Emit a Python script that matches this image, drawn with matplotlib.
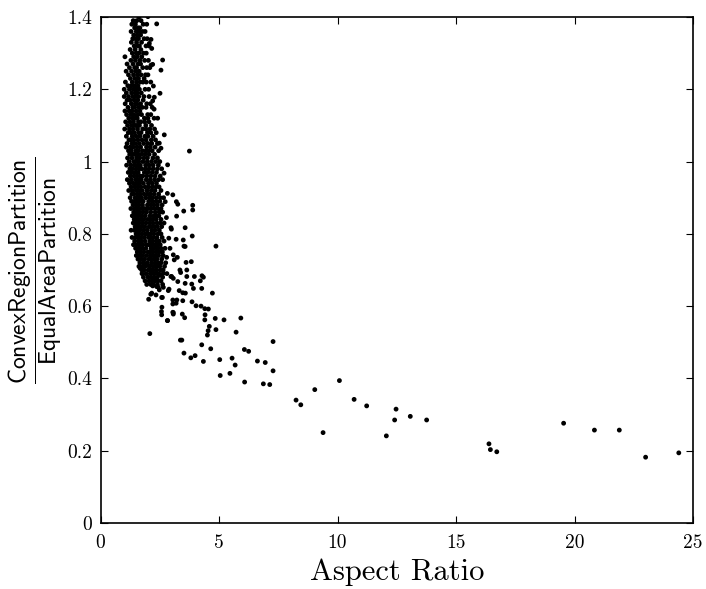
import matplotlib
matplotlib.use("Agg")
import matplotlib.pyplot as plt

plt.rcParams['mathtext.fontset'] = 'cm'

# dense core of the cloud: (y, [x values])
core_rows = [
    (1.40, [1.62]),
    (1.39, [1.38, 1.53, 1.71]),
    (1.38, [1.32, 1.47, 1.80]),
    (1.37, [1.44, 1.58, 1.66]),
    (1.36, [1.29, 1.51, 1.62, 1.77]),
    (1.35, [1.40, 1.55, 1.69]),
    (1.34, [1.36, 1.48, 1.60, 1.84]),
    (1.33, [1.30, 1.52, 1.73]),
    (1.32, [1.42, 1.57, 1.64, 1.92]),
    (1.31, [1.25, 1.46, 1.70]),
    (1.30, [1.34, 1.51, 1.62, 1.81]),
    (1.29, [1.03, 1.40, 1.55, 1.74]),
    (1.28, [1.28, 1.47, 1.66]),
    (1.27, [1.12, 1.37, 1.58, 1.69]),
    (1.26, [1.22, 1.44, 1.52, 1.78]),
    (1.25, [1.08, 1.31, 1.49, 1.63]),
    (1.24, [1.18, 1.39, 1.56, 1.71, 1.90]),
    (1.23, [1.26, 1.45, 1.60, 1.84]),
    (1.22, [1.05, 1.34, 1.52, 1.67, 1.79]),
    (1.21, [1.15, 1.29, 1.43, 1.58]),
    (1.20, [1.00, 1.22, 1.38, 1.50, 1.64, 1.88]),
    (1.19, [1.09, 1.31, 1.46, 1.55, 1.72]),
    (1.18, [1.00, 1.18, 1.36, 1.49, 1.61]),
    (1.17, [1.12, 1.25, 1.42, 1.57, 1.80]),
    (1.16, [1.04, 1.30, 1.47, 1.53, 1.69, 1.95]),
    (1.15, [1.16, 1.36, 1.44, 1.62, 1.76]),
    (1.14, [1.03, 1.21, 1.33, 1.51, 1.66]),
    (1.13, [1.10, 1.28, 1.41, 1.58, 1.73, 1.99]),
    (1.12, [1.19, 1.35, 1.48, 1.55, 1.85]),
    (1.11, [1.06, 1.24, 1.39, 1.60, 1.70]),
    (1.10, [1.14, 1.31, 1.45, 1.52, 1.64, 1.91]),
    (1.09, [1.02, 1.22, 1.37, 1.56, 1.78, 2.08]),
    (1.08, [1.17, 1.29, 1.43, 1.61, 1.71, 1.98]),
    (1.07, [1.09, 1.34, 1.50, 1.66, 1.87]),
    (1.06, [1.20, 1.27, 1.40, 1.57, 1.75, 2.14]),
    (1.05, [1.12, 1.33, 1.46, 1.63, 1.82]),
    (1.04, [1.08, 1.25, 1.38, 1.54, 1.69, 1.94]),
    (1.03, [1.18, 1.30, 1.49, 1.60, 1.77, 2.02]),
    (1.02, [1.23, 1.36, 1.44, 1.58, 1.72, 1.88]),
    (1.01, [1.14, 1.32, 1.52, 1.65, 1.83, 2.21]),
    (1.00, [1.21, 1.40, 1.47, 1.61, 1.79, 1.97, 2.33]),
    (0.99, [1.10, 1.28, 1.43, 1.56, 1.68, 1.90]),
    (0.98, [1.24, 1.35, 1.50, 1.63, 1.74, 2.05, 2.40]),
    (0.97, [1.17, 1.32, 1.46, 1.59, 1.85]),
    (0.96, [1.26, 1.41, 1.54, 1.67, 1.78, 2.12]),
    (0.95, [1.13, 1.30, 1.48, 1.60, 1.72, 1.93, 2.28]),
    (0.94, [1.22, 1.38, 1.52, 1.65, 1.81, 2.02]),
    (0.93, [1.29, 1.44, 1.57, 1.70, 1.88, 2.19, 2.47]),
    (0.92, [1.19, 1.34, 1.50, 1.62, 1.76, 1.96]),
    (0.91, [1.32, 1.40, 1.55, 1.68, 1.84, 2.10]),
    (0.90, [1.25, 1.46, 1.59, 1.73, 1.91, 2.36]),
    (0.89, [1.31, 1.43, 1.53, 1.66, 1.80, 2.03]),
    (0.88, [1.37, 1.50, 1.62, 1.77, 1.98, 2.25]),
    (0.87, [1.28, 1.45, 1.57, 1.71, 1.86, 2.14, 2.55]),
    (0.86, [1.40, 1.53, 1.64, 1.79, 1.94, 2.31]),
    (0.85, [1.34, 1.48, 1.60, 1.74, 1.89, 2.09, 2.46]),
    (0.84, [1.42, 1.56, 1.68, 1.83, 2.00, 2.20]),
    (0.83, [1.38, 1.51, 1.63, 1.77, 1.92, 2.38]),
    (0.82, [1.46, 1.58, 1.72, 1.87, 2.05, 2.27]),
    (0.81, [1.29, 1.43, 1.54, 1.66, 1.81, 1.97, 2.16]),
    (0.80, [1.50, 1.61, 1.75, 1.90, 2.11, 2.42]),
    (0.79, [1.33, 1.47, 1.57, 1.69, 1.84, 2.02, 2.24]),
    (0.78, [1.44, 1.60, 1.73, 1.88, 2.08, 2.35]),
    (0.77, [1.39, 1.53, 1.66, 1.79, 1.95, 2.18, 2.52]),
    (0.76, [1.48, 1.62, 1.76, 1.91, 2.13, 2.40]),
    (0.75, [1.55, 1.69, 1.83, 2.00, 2.22, 2.61]),
    (0.74, [1.51, 1.64, 1.78, 1.94, 2.10, 2.31]),
    (0.73, [1.58, 1.72, 1.86, 2.04, 2.27]),
    (0.72, [1.66, 1.81, 1.97, 2.15, 2.44]),
    (0.71, [1.62, 1.76, 1.88, 2.06, 2.36, 2.70]),
    (0.70, [1.74, 1.84, 2.01, 2.52]),
    (0.69, [1.75, 1.92, 2.10]),
    (0.68, [1.81, 2.00, 2.28]),
    (0.67, [1.88, 2.19, 2.42]),
    (0.66, [1.95, 2.62]),
]

# right-hand fringe of the core, same layout
fringe_rows = [
    (1.38, [1.95]), (1.36, [1.88]), (1.34, [1.97]), (1.32, [2.05]),
    (1.30, [1.93]), (1.28, [1.86, 2.02]), (1.26, [1.95, 2.08]), (1.24, [2.00]),
    (1.22, [1.93, 2.12]), (1.20, [2.03]), (1.18, [1.83, 2.05]), (1.16, [2.10]),
    (1.15, [1.92, 2.18]), (1.13, [2.12]), (1.12, [2.00, 2.26]), (1.11, [1.86, 2.04]),
    (1.10, [2.15]), (1.09, [1.92, 2.28]), (1.08, [2.12, 2.35]), (1.07, [2.00, 2.22]),
    (1.06, [1.92, 2.32]), (1.05, [2.00, 2.16, 2.40]), (1.04, [2.10, 2.30]),
    (1.03, [1.92, 2.18, 2.45]), (1.02, [2.05, 2.28]), (1.01, [1.98, 2.40]),
    (1.00, [2.15, 2.50]), (0.99, [2.05, 2.22, 2.44]), (0.98, [1.90, 2.22, 2.58]),
    (0.97, [2.00, 2.18, 2.36]), (0.96, [1.95, 2.30, 2.52]), (0.95, [2.10, 2.45, 2.62]),
    (0.94, [2.18, 2.36]), (0.93, [2.03, 2.34]), (0.92, [2.14, 2.30, 2.55]),
    (0.91, [1.98, 2.26, 2.45]), (0.90, [2.08, 2.20, 2.52, 2.66]), (0.89, [2.18, 2.34, 2.50]),
    (0.88, [2.12, 2.40, 2.60]), (0.87, [2.00, 2.28, 2.42]), (0.86, [2.12, 2.48, 2.62]),
    (0.85, [2.25, 2.36]), (0.84, [2.12, 2.35, 2.55]), (0.83, [2.08, 2.22, 2.52, 2.68]),
    (0.82, [2.15, 2.40, 2.58]), (0.81, [2.30, 2.48]), (0.80, [2.00, 2.25, 2.55]),
    (0.79, [2.12, 2.38, 2.60]), (0.78, [2.20, 2.48, 2.68]), (0.77, [2.05, 2.32, 2.42]),
    (0.76, [2.26, 2.55, 2.72]), (0.75, [2.10, 2.36, 2.48]), (0.74, [2.20, 2.45, 2.64]),
    (0.73, [2.14, 2.38, 2.58]), (0.72, [2.30, 2.56, 2.75]), (0.71, [2.22, 2.50]),
    (0.70, [2.12, 2.36, 2.64]), (0.69, [2.24, 2.46, 2.80]), (0.68, [2.14, 2.40, 2.62]),
    (0.67, [2.05, 2.30, 2.55]), (0.66, [2.12, 2.40]),
]

# scattered points around the core
mid_x = [2.82, 3.05, 2.73, 3.20, 3.26, 3.89, 3.89, 3.51, 3.21, 2.78, 2.97, 3.57,
         2.99, 3.87, 4.87, 2.88, 3.19, 3.49, 3.52, 3.57, 2.93, 3.07, 2.79, 3.24,
         3.11, 3.61, 3.83, 3.35, 3.64, 3.38, 3.96, 4.28, 4.34, 4.21, 3.64, 2.97,
         3.07, 3.26, 3.57, 3.85, 3.92, 2.89, 3.32, 3.47, 3.58, 2.20, 2.44, 2.65,
         2.12, 2.34, 2.58, 2.03, 3.05, 3.22, 3.47, 3.86, 3.05, 3.19, 4.03, 2.59,
         2.57, 2.58, 3.05, 3.07, 3.45, 3.55, 2.82, 2.08, 3.37, 3.43, 3.52, 3.81,
         3.99, 3.75, 2.37, 2.00, 2.62, 2.55, 2.23, 2.51, 2.27, 2.20, 2.26, 2.41,
         2.69, 2.48, 2.55, 2.83, 2.68, 2.13, 2.06, 2.16, 2.20, 2.13, 1.67, 1.88,
         2.06, 2.23, 2.37, 2.51, 2.65, 3.00, 2.23, 2.37, 2.48, 2.16, 2.86, 2.61,
         3.07, 2.83]
mid_y = [0.912, 0.908, 0.889, 0.889, 0.882, 0.879, 0.866, 0.863, 0.849, 0.845, 0.817, 0.817,
         0.813, 0.794, 0.766, 0.788, 0.785, 0.783, 0.766, 0.765, 0.760, 0.742, 0.735, 0.735,
         0.728, 0.721, 0.723, 0.700, 0.700, 0.693, 0.682, 0.684, 0.680, 0.670, 0.682, 0.682,
         0.677, 0.668, 0.663, 0.661, 0.649, 0.647, 0.643, 0.637, 0.636, 0.656, 0.652, 0.652,
         0.633, 0.631, 0.624, 0.619, 0.617, 0.617, 0.615, 0.612, 0.606, 0.608, 0.601, 0.597,
         0.585, 0.576, 0.583, 0.578, 0.578, 0.568, 0.560, 0.524, 0.506, 0.506, 0.470, 0.457,
         0.463, 1.029, 1.381, 1.401, 1.281, 1.253, 1.209, 1.189, 1.178, 1.168, 1.145, 1.120,
         1.074, 1.051, 1.037, 0.991, 0.968, 1.338, 1.327, 1.313, 1.269, 1.267, 0.705, 0.717,
         0.711, 0.700, 0.691, 0.686, 0.691, 0.682, 0.659, 0.654, 0.645, 0.636, 0.643, 0.624,
         0.582, 0.560]

# long tail
tail_x = [4.27, 4.72, 4.24, 4.40, 4.55, 4.41, 4.40, 4.84, 5.21, 5.92, 4.59, 4.54,
          4.87, 4.51, 5.72, 7.28, 4.27, 4.65, 6.07, 6.25, 4.34, 5.03, 5.55, 5.68,
          6.62, 6.95, 7.28, 5.05, 5.46, 6.08, 6.87, 7.14, 8.25, 8.45, 9.04, 10.08,
          10.70, 11.23, 9.39, 12.06, 12.41, 12.47, 13.07, 13.76, 16.39, 16.45, 16.72,
          19.54, 20.84, 21.89, 23.00, 24.40]
tail_y = [0.649, 0.636, 0.600, 0.593, 0.592, 0.576, 0.562, 0.566, 0.562, 0.567, 0.544, 0.532,
          0.535, 0.520, 0.528, 0.502, 0.493, 0.482, 0.480, 0.475, 0.447, 0.452, 0.456, 0.437,
          0.448, 0.444, 0.421, 0.408, 0.414, 0.390, 0.385, 0.383, 0.340, 0.327, 0.369, 0.394,
          0.342, 0.324, 0.250, 0.241, 0.285, 0.315, 0.295, 0.285, 0.219, 0.203, 0.197,
          0.276, 0.257, 0.257, 0.182, 0.194]

xticks = [0, 5, 10, 15, 20, 25]
yticks = [0, 0.2, 0.4, 0.6, 0.8, 1.0, 1.2, 1.4]
ytick_labels = ['0', '0.2', '0.4', '0.6', '0.8', '1', '1.2', '1.4']

xs = []
ys = []
for yv, row in core_rows + fringe_rows:
    for xv in row:
        xs.append(xv)
        ys.append(yv)
xs += mid_x + tail_x
ys += mid_y + tail_y

fig = plt.figure(figsize=(7.06, 5.89), dpi=100)
ax = fig.add_axes([0.1424, 0.1121, 0.8392, 0.8590])
ax.scatter(xs, ys, s=12, c='black', edgecolors='none')

ax.set_xlim(0, 25)
ax.set_ylim(0, 1.4)
ax.set_xticks(xticks)
ax.set_xticklabels([str(t) for t in xticks], fontfamily='cmr10', fontsize=14)
ax.set_yticks(yticks)
ax.set_yticklabels(ytick_labels, fontfamily='cmr10', fontsize=14)
ax.tick_params(direction='in', top=True, right=True, length=5, width=0.8)
ax.tick_params(axis='x', pad=8)
ax.tick_params(axis='y', pad=6)
for sp in ax.spines.values():
    sp.set_linewidth(1.2)

ax.set_xlabel('Aspect Ratio', fontfamily='cmr10', fontsize=22, labelpad=5)
ax.set_ylabel(r'$\dfrac{\mathsf{ConvexRegionPartition}}{\mathsf{EqualAreaPartition}}$',
              fontsize=17, labelpad=2)

fig.savefig('out.png', dpi=100)
